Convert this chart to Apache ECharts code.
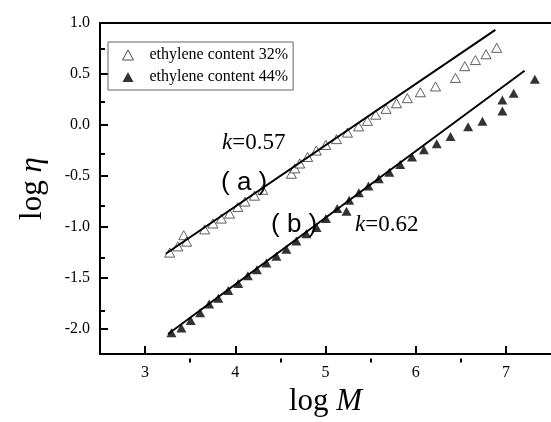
<!DOCTYPE html>
<html><head><meta charset="utf-8">
<script src="https://cdn.jsdelivr.net/npm/echarts@6/dist/echarts.min.js"></script>
<style>html,body{margin:0;padding:0;background:#fff}#c{width:551px;height:422px}</style>
</head><body><div id="c"></div>
<script>
// ---- data ----
const seriesNames = ['ethylene content 32%', 'ethylene content 44%'];
const logM_a   = [3.273,3.362,3.428,3.461,3.660,3.752,3.845,3.936,4.028,4.108,4.213,4.304,4.622,4.660,4.715,4.802,4.898,5.003,5.122,5.244,5.367,5.465,5.557,5.671,5.787,5.907,6.052,6.220,6.441,6.544,6.662,6.780,6.898];
const logEta_a = [-1.254,-1.193,-1.083,-1.146,-1.026,-0.968,-0.920,-0.871,-0.807,-0.753,-0.695,-0.638,-0.480,-0.427,-0.379,-0.315,-0.252,-0.197,-0.140,-0.076,-0.015,0.039,0.100,0.157,0.212,0.262,0.320,0.377,0.461,0.576,0.636,0.693,0.756];
const logM_b   = [3.292,3.403,3.506,3.610,3.710,3.812,3.922,4.033,4.139,4.240,4.345,4.456,4.566,4.677,4.787,4.901,5.005,5.130,5.233,5.262,5.370,5.476,5.591,5.708,5.828,5.959,6.091,6.233,6.386,6.581,6.740,6.961,6.961,7.086,7.321];
const logEta_b = [-2.041,-1.993,-1.921,-1.845,-1.759,-1.701,-1.625,-1.557,-1.481,-1.423,-1.356,-1.289,-1.222,-1.141,-1.069,-1.007,-0.920,-0.820,-0.849,-0.739,-0.667,-0.600,-0.530,-0.466,-0.389,-0.315,-0.245,-0.185,-0.113,-0.018,0.035,0.135,0.243,0.310,0.447];
const fitA_x = [3.229, 6.883];
const fitA_y = [-1.265, 0.933];
const fitB_x = [3.255, 7.207];
const fitB_y = [-2.053, 0.531];
const xMajor = [3, 4, 5, 6, 7];
const xMinor = [3.5, 4.5, 5.5, 6.5];
const yMajor = [-2.0, -1.5, -1.0, -0.5, 0.0, 0.5, 1.0];
const yMinor = [-1.75, -1.25, -0.75, -0.25, 0.25, 0.75];
const slopeLabels = ['0.57', '0.62'];
const curveLabels = ['( a )', '( b )'];

const zip = (a, b) => a.map((v, i) => [v, b[i]]);
const SERIF = 'Liberation Serif';
const chart = echarts.init(document.getElementById('c'), null, {renderer: 'canvas'});
const gridRect = {left: 100, top: 23, width: 452.5, height: 339.5};
const X = [2.5, 7.5], Y = [-2.25, 1.0];

chart.setOption({
  animation: false,
  backgroundColor: '#fff',
  grid: [Object.assign({}, gridRect), Object.assign({}, gridRect)],
  legend: {
    orient: 'vertical', left: 108, top: 42,
    data: seriesNames.map(n => ({name: n, icon: 'triangle'})),
    borderColor: '#666', borderWidth: 1, backgroundColor: '#fff',
    padding: [5, 5, 5, 14],
    itemWidth: 11, itemHeight: 10, itemGap: 6,
    itemStyle: {borderWidth: 1},
    formatter: n => '{g|}' + n,
    textStyle: {fontFamily: SERIF, fontSize: 16, color: '#000', lineHeight: 14,
      rich: {g: {width: 11}}}
  },
  xAxis: [
    {gridIndex: 0, type: 'value', min: X[0], max: X[1], position: 'bottom',
     axisLine: {show: true, onZero: false, lineStyle: {color: '#000', width: 2}},
     axisTick: {show: true, inside: true, length: 8, customValues: xMajor, lineStyle: {color: '#000', width: 2}},
     axisLabel: {customValues: xMajor, fontFamily: SERIF, fontSize: 16, color: '#000', margin: 11},
     splitLine: {show: false},
     name: '{n|log }{i|M}', nameLocation: 'middle', nameGap: 26,
     nameTextStyle: {rich: {n: {fontFamily: SERIF, fontSize: 31, color: '#000'}, i: {fontFamily: SERIF, fontSize: 31, fontStyle: 'italic', color: '#000'}}}},
    {gridIndex: 0, type: 'value', min: X[0], max: X[1], position: 'top',
     axisLine: {show: true, onZero: false, lineStyle: {color: '#000', width: 2}},
     axisTick: {show: false}, axisLabel: {show: false}, splitLine: {show: false}},
    {gridIndex: 1, type: 'value', min: X[0], max: X[1], position: 'bottom',
     axisLine: {show: false, onZero: false},
     axisTick: {show: true, inside: true, length: 4, customValues: xMinor, lineStyle: {color: '#000', width: 2}},
     axisLabel: {show: false}, splitLine: {show: false}}
  ],
  yAxis: [
    {gridIndex: 0, type: 'value', min: Y[0], max: Y[1], position: 'left',
     axisLine: {show: true, onZero: false, lineStyle: {color: '#000', width: 2}},
     axisTick: {show: true, inside: true, length: 8, customValues: yMajor, lineStyle: {color: '#000', width: 2}},
     axisLabel: {customValues: yMajor, formatter: v => Number(v).toFixed(1), fontFamily: SERIF, fontSize: 16, color: '#000', margin: 10},
     splitLine: {show: false},
     name: '{n|log }{i|η}', nameLocation: 'middle', nameGap: 52, nameRotate: 90,
     nameTextStyle: {rich: {n: {fontFamily: SERIF, fontSize: 31, color: '#000'}, i: {fontFamily: SERIF, fontSize: 31, fontStyle: 'italic', color: '#000'}}}},
    {gridIndex: 1, type: 'value', min: Y[0], max: Y[1], position: 'left',
     axisLine: {show: false, onZero: false},
     axisTick: {show: true, inside: true, length: 5, customValues: yMinor, lineStyle: {color: '#000', width: 2}},
     axisLabel: {show: false}, splitLine: {show: false}}
  ],
  series: [
    {name: seriesNames[0], type: 'scatter', xAxisIndex: 0, yAxisIndex: 0, z: 3,
     data: zip(logM_a, logEta_a), symbol: 'triangle', symbolSize: [10, 9],
     itemStyle: {color: '#fff', borderColor: '#222', borderWidth: 0.9}},
    {name: seriesNames[1], type: 'scatter', xAxisIndex: 0, yAxisIndex: 0, z: 3,
     data: zip(logM_b, logEta_b), symbol: 'triangle', symbolSize: [10, 9],
     itemStyle: {color: '#000'}},
    {name: 'fitA', type: 'line', xAxisIndex: 0, yAxisIndex: 0, z: 4, data: zip(fitA_x, fitA_y),
     symbol: 'none', lineStyle: {color: '#000', width: 2}},
    {name: 'fitB', type: 'line', xAxisIndex: 0, yAxisIndex: 0, z: 4, data: zip(fitB_x, fitB_y),
     symbol: 'none', lineStyle: {color: '#000', width: 2}}
  ],
  graphic: [
    {type: 'text', x: 222, y: 143, z: 10, style: {text: '{i|k}{n|=' + slopeLabels[0] + '}', verticalAlign: 'middle',
      rich: {i: {fontFamily: SERIF, fontSize: 23, fontStyle: 'italic', fill: '#000'}, n: {fontFamily: SERIF, fontSize: 23, fill: '#000'}}}},
    {type: 'text', x: 355, y: 225, z: 10, style: {text: '{i|k}{n|=' + slopeLabels[1] + '}', verticalAlign: 'middle',
      rich: {i: {fontFamily: SERIF, fontSize: 23, fontStyle: 'italic', fill: '#000'}, n: {fontFamily: SERIF, fontSize: 23, fill: '#000'}}}},
    {type: 'text', x: 221, y: 183, z: 10, style: {text: curveLabels[0], verticalAlign: 'middle', fontFamily: 'Liberation Sans', fontSize: 26, fill: '#000'}},
    {type: 'text', x: 271, y: 225, z: 10, style: {text: curveLabels[1], verticalAlign: 'middle', fontFamily: 'Liberation Sans', fontSize: 26, fill: '#000'}}
  ]
});
</script></body></html>
